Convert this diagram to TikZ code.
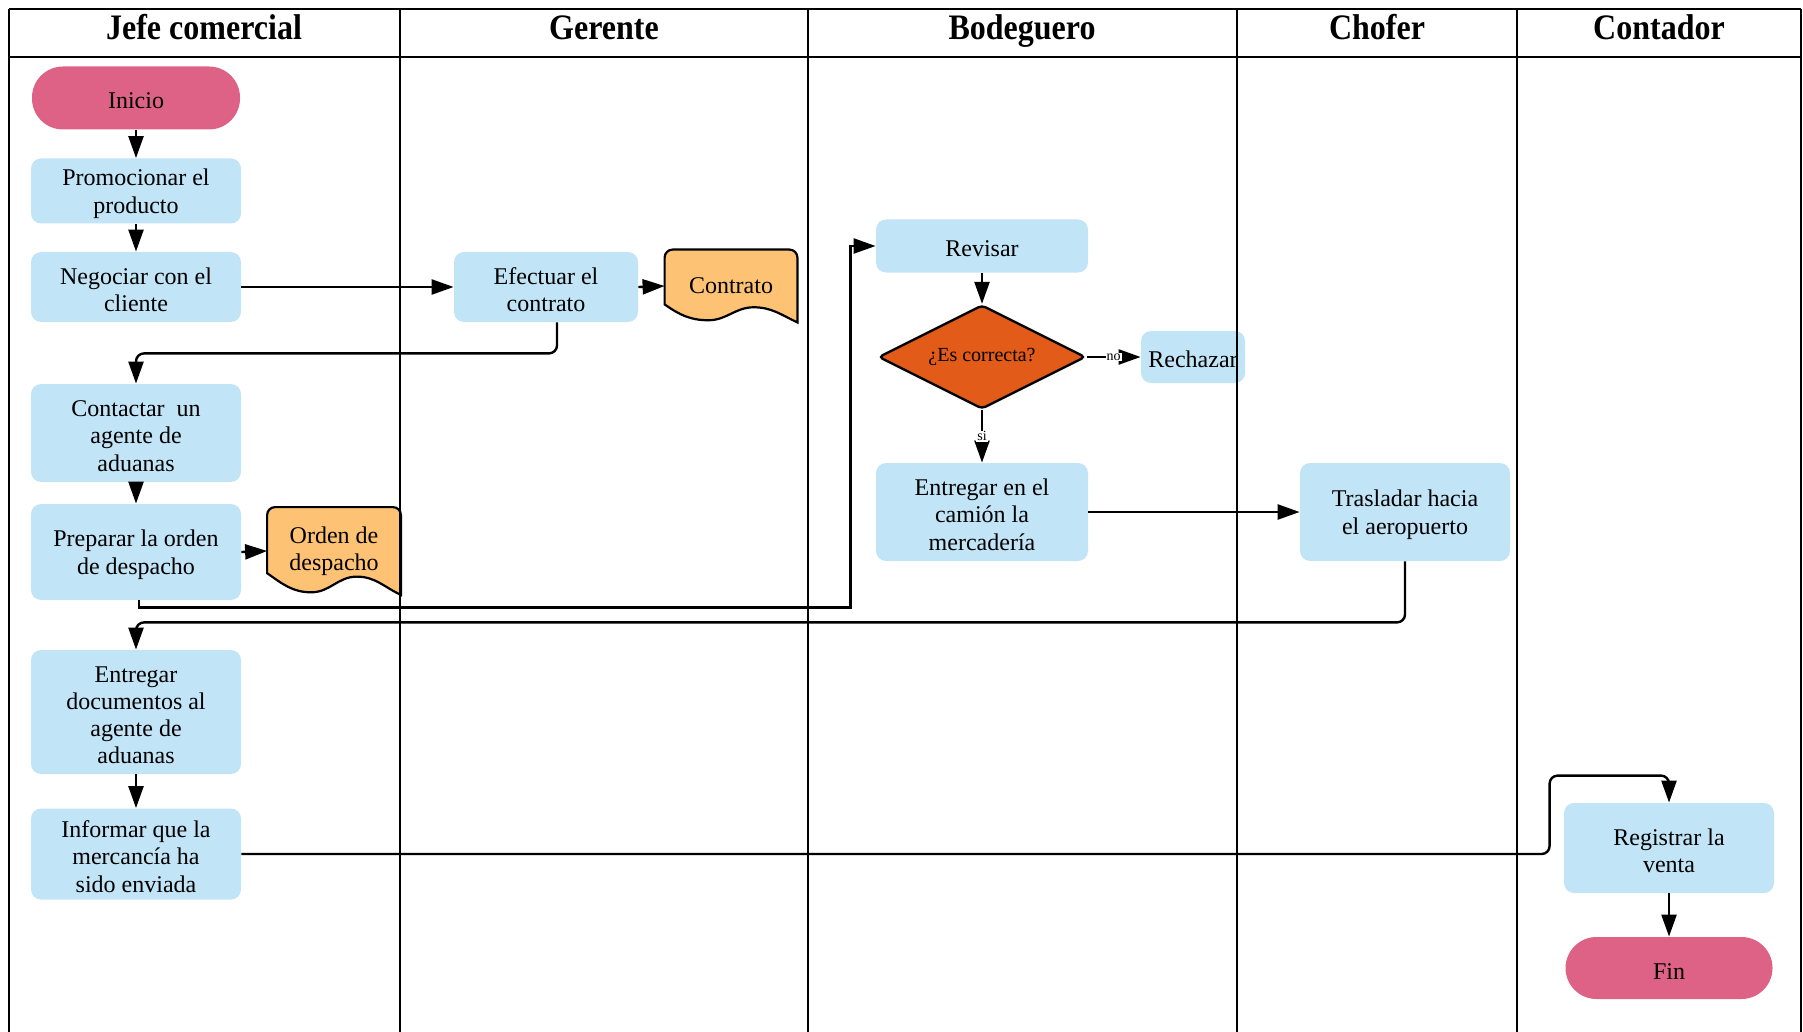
\documentclass[tikz,border=0pt]{standalone}
\usepackage{fontspec}
\setmainfont{Liberation Serif}
\usepackage{tikz}
\usetikzlibrary{arrows.meta, positioning, shapes.geometric, calc, backgrounds}
\definecolor{FLblue}{RGB}{193,228,246}
\definecolor{FLpink}{RGB}{222,98,134}
\definecolor{FLdoc}{RGB}{254,194,116}
\definecolor{FLdec}{RGB}{226,91,24}

% document outline behind a node: #1 node name, #2 node height
\newcommand{\docshape}[2]{%
  \begin{scope}[on background layer]
    \draw[docline] ($(#1.south west)+(0,0.25*#2)$) [rounded corners=4pt] -- (#1.north west) -- (#1.north east)
      -- ($(#1.north east)+(0,-8pt)$) [sharp corners] -- (#1.south east)
      to[out=155,in=0] ($(#1.south west)!0.67!(#1.south east)+(0,0.21*#2)$)
      to[out=180,in=0] ($(#1.south west)!0.33!(#1.south east)+(0,0.03*#2)$)
      to[out=180,in=-35] ($(#1.south west)+(0,0.25*#2)$) -- cycle;
  \end{scope}}

\begin{document}
\begin{tikzpicture}[x=0.5pt,y=-0.5pt,
    sz/.style 2 args={minimum width=#1pt, minimum height=#2pt},
    lowtext/.style={execute at begin node={\rule{0pt}{\dimexpr 13.6pt*#1-2.6pt\relax}}},
    lowtext/.default=1,
    proc/.style={rectangle, rounded corners=5pt, fill=FLblue, inner sep=1pt, align=center, lowtext, font=\fontsize{12}{13.6}\selectfont},
    term/.style={rectangle, rounded corners=15.5pt, fill=FLpink, inner sep=1pt, lowtext, font=\fontsize{12}{13.6}\selectfont},
    docbox/.style={rectangle, inner sep=1pt, align=center, font=\fontsize{12}{13.6}\selectfont},
    docline/.style={draw=black, line width=1.1pt, fill=FLdoc},
    decision/.style={diamond, aspect=2, draw=black, line width=1.2pt, fill=FLdec, rounded corners=2pt, inner sep=0pt, font=\fontsize{10}{11}\selectfont},
    lane/.style={line width=1pt},
    lanehead/.style={anchor=base, font=\bfseries\fontsize{16}{18}\selectfont},
    flow/.style={line width=1.2pt, -{Triangle[length=11pt,width=7.5pt]}},
    flowlabel/.style={fill=white, inner sep=0.5pt, font=\fontsize{7}{8}\selectfont}]
  \useasboundingbox (0,0) rectangle (1803,1032);

  % Jefe comercial
  \node[term, sz={104}{31.5}] (inicio) at (136,98) {Inicio};
  \node[proc, sz={105}{32.5}, lowtext=2] (promo) at (136,191) {Promocionar el\\producto};
  \node[proc, sz={105}{35}, lowtext=2] (negociar) at (136,287) {Negociar con el\\cliente};
  \node[proc, sz={105}{49}, lowtext=3] (contactar) at (136,433) {Contactar~ un\\agente de\\aduanas};
  \node[proc, sz={105}{48}, lowtext=2] (preparar) at (136,552) {Preparar la orden\\de despacho};
  \node[docbox, sz={66.5}{43.5}] (orden) at (334,551) {Orden de\\despacho};
  \docshape{orden}{43.5pt}
  \node[proc, sz={105}{62}, lowtext=4] (entdocs) at (136,712) {Entregar\\documentos al\\agente de\\aduanas};
  \node[proc, sz={105}{45.5}, lowtext=3] (informar) at (136,854) {Informar que la\\mercancía ha\\sido enviada};

  % Gerente
  \node[proc, sz={92}{35}, lowtext=2] (efectuar) at (546,287) {Efectuar el\\contrato};
  \node[docbox, sz={66}{36}] (contrato) at (731,286) {Contrato};
  \docshape{contrato}{36pt}

  % Bodeguero
  \node[proc, sz={106}{26.5}] (revisar) at (982,246) {Revisar};
  \node[decision, sz={103.5}{52}] (decision) at (982,357) {¿Es correcta?};
  \node[proc, sz={52}{26}] (rechazar) at (1193,357) {Rechazar};
  \node[proc, sz={106}{49}, lowtext=3] (entcamion) at (982,512) {Entregar en el\\camión la\\mercadería};

  % Chofer
  \node[proc, sz={105}{49}, lowtext=2] (trasladar) at (1405,512) {Trasladar hacia\\el aeropuerto};

  % Contador
  \node[proc, sz={105}{45}, lowtext=2] (registrar) at (1669,848) {Registrar la\\venta};
  \node[term, sz={103.5}{31}] (fin) at (1669,968) {Fin};

  % lanes
  \draw[line width=1.4pt] (9,9) -- (1801,9);
  \draw[line width=1.4pt] (9,57) -- (1801,57);
  \foreach \x in {9,400,808,1237,1517,1801}
    \draw[lane] (\x,9) -- (\x,1032);
  \foreach \x/\t [count=\i] in {204/Jefe comercial, 604/Gerente, 1022/Bodeguero, 1377/Chofer, 1659/Contador}
    \node[lanehead] (head\i) at (\x,40) {\scalebox{1}[1.12]{\t}};

  % flows
  \draw[flow] (inicio.south) -- (promo.north);
  \draw[flow] (promo.south) -- (negociar.north);
  \draw[flow] (negociar.east) -- (efectuar.west);
  \draw[flow] (efectuar.east) -- (contrato.west);
  \draw[flow, rounded corners=4pt] ([xshift=5.5pt]efectuar.south) -- ++(0,31) -| (contactar.north);
  \draw[flow] (contactar.south) -- (preparar.north);
  \draw[flow] (preparar.east) -- (orden.west);
  \draw[flow] ([xshift=1.5pt]preparar.south) -- ++(0,7) -| ([xshift=-12.5pt]revisar.west) -- (revisar.west);
  \draw[flow] (revisar.south) -- (decision.north);
  \draw[flow] (decision.east) -- node[flowlabel] {no} (rechazar.west);
  \draw[flow] (decision.south) -- node[flowlabel] {si} (entcamion.north);
  \draw[flow] (entcamion.east) -- (trasladar.west);
  \draw[flow, rounded corners=4pt] (trasladar.south) -- ++(0,61) -| (entdocs.north);
  \draw[flow] (entdocs.south) -- (informar.north);
  \draw[flow, rounded corners=4pt] (informar.east) -| ([shift={(-7pt,13.5pt)}]registrar.north west) -| (registrar.north);
  \draw[flow] (registrar.south) -- (fin.north);
\end{tikzpicture}
\end{document}
